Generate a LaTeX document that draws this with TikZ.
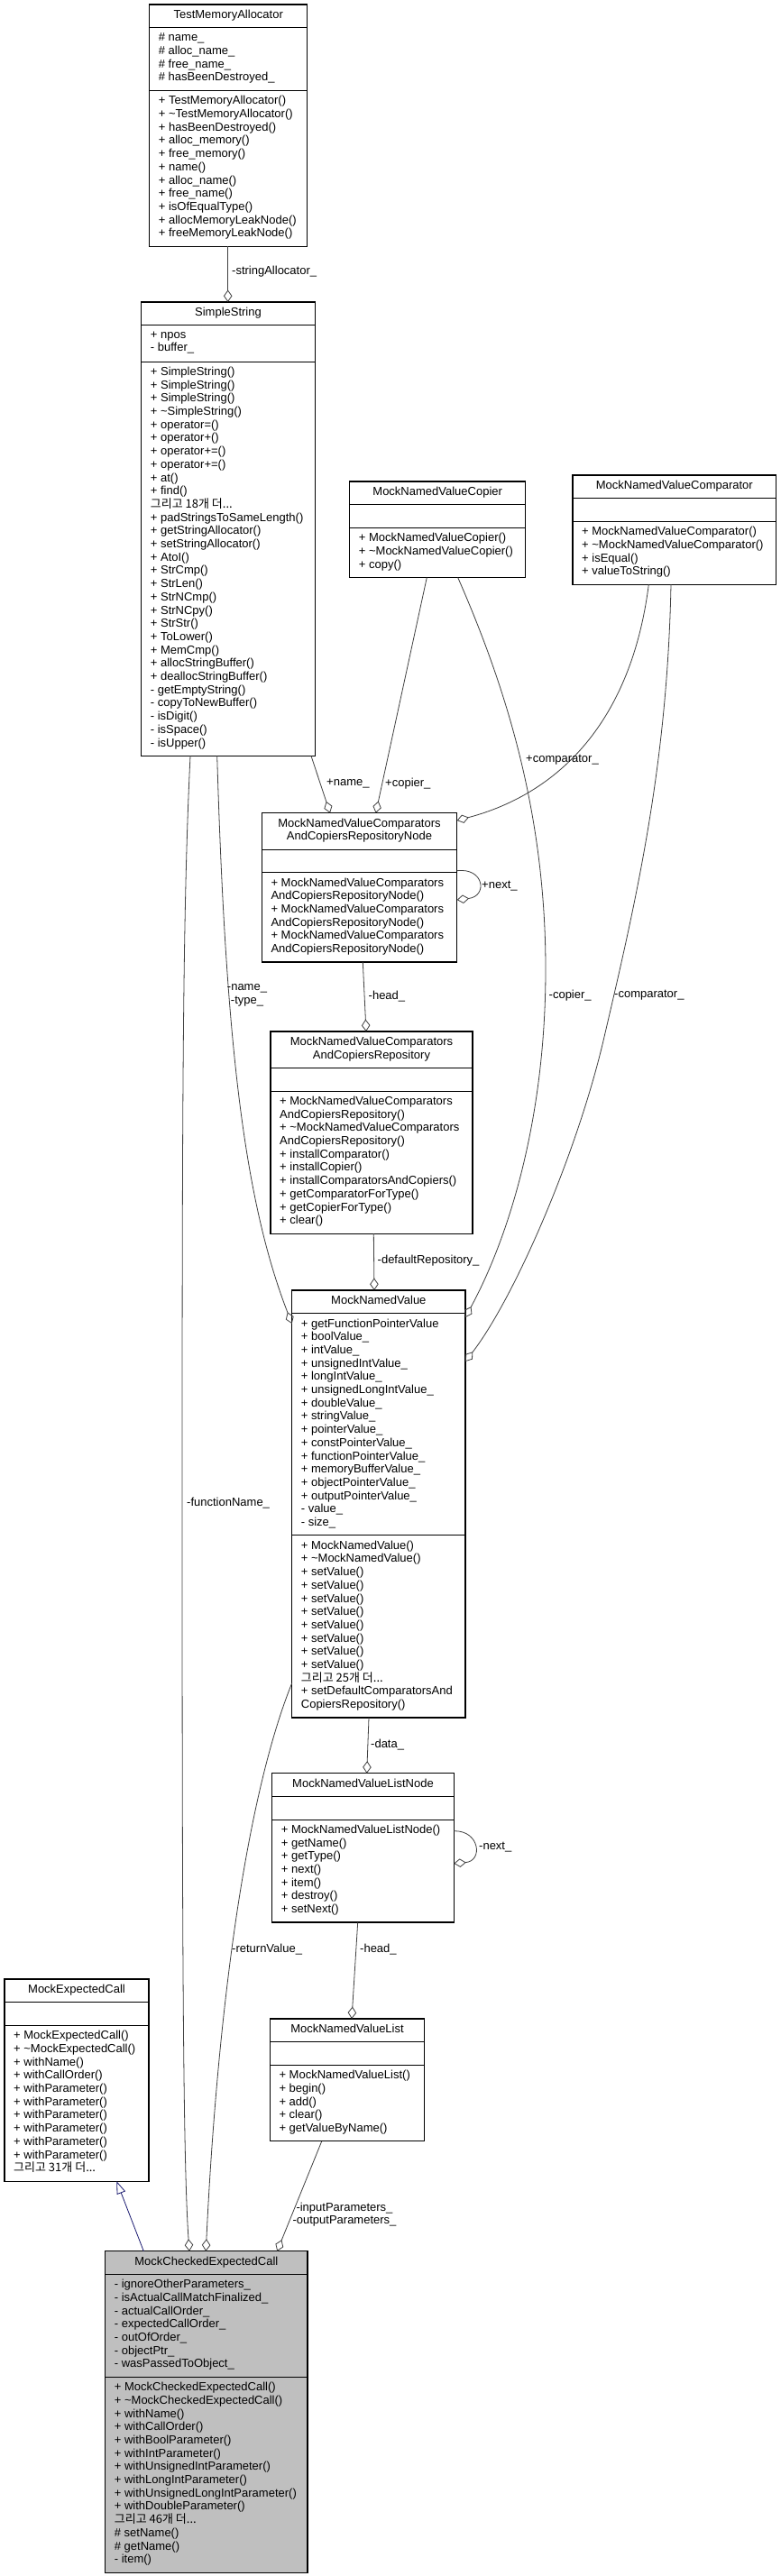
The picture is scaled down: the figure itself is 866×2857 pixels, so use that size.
\documentclass[tikz,border=0pt]{standalone}
\usepackage{fontspec}
\setmainfont{Liberation Sans}
\newfontfamily\kr{Noto Sans CJK KR}
\usetikzlibrary{arrows.meta}
\definecolor{edgegray}{HTML}{404040}
\definecolor{inhblue}{HTML}{191970}
\definecolor{mcecfill}{HTML}{BFBFBF}
% name, x1, x2, y0, y1, y2, y3, fill, title
\newcommand\umlbox[9]{%
  \node[box, fill=#8, minimum width={(#3)-(#2)}, minimum height={(#7)-(#4)}, anchor=north west] (#1) at (#2,#4) {};
  \draw[divider] (#2,#5) -- (#3,#5) (#2,#6) -- (#3,#6);
  \node[txt, align=center] (#1-t) at ({((#2)+(#3))/2},{((#4)+(#5))/2}) {#9};
}
% name, x1, ya, yb, text
\newcommand\ctext[5]{\node[txt, align=left, anchor=west] (#1) at ({(#2)+10},{((#3)+(#4))/2}) {#5};}
\newcommand\tl{\textasciitilde}
\begin{document}
\begin{tikzpicture}[x=1pt,y=-1pt,
  box/.style={draw=black, line width=1.1pt, inner sep=0pt, outer sep=0pt, rectangle},
  divider/.style={draw=black, line width=1.1pt},
  txt/.style={inner sep=0pt, font=\fontsize{13}{14.7}\selectfont, execute at begin node=\strut, execute at end node=\strut},
  lbl/.style={inner sep=0pt, font=\fontsize{13}{14.7}\selectfont},
  agg/.style={draw=edgegray, line width=0.8pt, -{Diamond[open, length=13.5pt, width=9.5pt]}},
  inh/.style={draw=inhblue, line width=0.8pt, -{Triangle[open, length=14pt, width=10pt]}},
]
\useasboundingbox[fill=white] (0,0) rectangle (866,2857);

% TestMemoryAllocator
\umlbox{tma}{165.7}{340.7}{5}{30.7}{100.5}{273.2}{white}{TestMemoryAllocator}
\ctext{tma-a}{165.7}{30.7}{100.5}{\# name\_\\\# alloc\_name\_\\\# free\_name\_\\\# hasBeenDestroyed\_}
\ctext{tma-m}{165.7}{100.5}{273.2}{+ TestMemoryAllocator()\\+ \tl TestMemoryAllocator()\\+ hasBeenDestroyed()\\+ alloc\_memory()\\+ free\_memory()\\+ name()\\+ alloc\_name()\\+ free\_name()\\+ isOfEqualType()\\+ allocMemoryLeakNode()\\+ freeMemoryLeakNode()}

% SimpleString
\umlbox{ss}{156.7}{349.3}{335}{360.7}{401.1}{838.4}{white}{SimpleString}
\ctext{ss-a}{156.7}{360.7}{401.1}{+ npos\\- buffer\_}
\ctext{ss-m}{156.7}{401.1}{838.4}{+ SimpleString()\\+ SimpleString()\\+ SimpleString()\\+ \tl SimpleString()\\+ operator=()\\+ operator+()\\+ operator+=()\\+ operator+=()\\+ at()\\+ find()\\{\kr 그리고 18개 더...}\\+ padStringsToSameLength()\\+ getStringAllocator()\\+ setStringAllocator()\\+ AtoI()\\+ StrCmp()\\+ StrLen()\\+ StrNCmp()\\+ StrNCpy()\\+ StrStr()\\+ ToLower()\\+ MemCmp()\\+ allocStringBuffer()\\+ deallocStringBuffer()\\- getEmptyString()\\- copyToNewBuffer()\\- isDigit()\\- isSpace()\\- isUpper()}

% MockNamedValueCopier
\umlbox{cop}{387.7}{582.7}{534}{559.7}{585.4}{640.5}{white}{MockNamedValueCopier}
\ctext{cop-m}{387.7}{585.4}{640.5}{+ MockNamedValueCopier()\\+ \tl MockNamedValueCopier()\\+ copy()}

% MockNamedValueComparator
\umlbox{cmp}{635}{860.7}{527}{552.7}{578.4}{648.2}{white}{MockNamedValueComparator}
\ctext{cmp-m}{635}{578.4}{648.2}{+ MockNamedValueComparator()\\+ \tl MockNamedValueComparator()\\+ isEqual()\\+ valueToString()}

% RepositoryNode
\umlbox{rn}{290.3}{506.7}{901.7}{942.1}{967.8}{1067}{white}{MockNamedValueComparators\\AndCopiersRepositoryNode}
\ctext{rn-m}{290.3}{967.8}{1067}{+ MockNamedValueComparators\\AndCopiersRepositoryNode()\\+ MockNamedValueComparators\\AndCopiersRepositoryNode()\\+ MockNamedValueComparators\\AndCopiersRepositoryNode()}

% Repository
\umlbox{rep}{300}{524}{1144}{1184.4}{1210.1}{1368.1}{white}{MockNamedValueComparators\\AndCopiersRepository}
\ctext{rep-m}{300}{1210.1}{1368.1}{+ MockNamedValueComparators\\AndCopiersRepository()\\+ \tl MockNamedValueComparators\\AndCopiersRepository()\\+ installComparator()\\+ installCopier()\\+ installComparatorsAndCopiers()\\+ getComparatorForType()\\+ getCopierForType()\\+ clear()}

% MockNamedValue
\umlbox{mnv}{323.7}{516}{1431}{1456.7}{1702.9}{1905}{white}{MockNamedValue}
\ctext{mnv-a}{323.7}{1456.7}{1702.9}{+ getFunctionPointerValue\\+ boolValue\_\\+ intValue\_\\+ unsignedIntValue\_\\+ longIntValue\_\\+ unsignedLongIntValue\_\\+ doubleValue\_\\+ stringValue\_\\+ pointerValue\_\\+ constPointerValue\_\\+ functionPointerValue\_\\+ memoryBufferValue\_\\+ objectPointerValue\_\\+ outputPointerValue\_\\- value\_\\- size\_}
\ctext{mnv-m}{323.7}{1702.9}{1905}{+ MockNamedValue()\\+ \tl MockNamedValue()\\+ setValue()\\+ setValue()\\+ setValue()\\+ setValue()\\+ setValue()\\+ setValue()\\+ setValue()\\+ setValue()\\{\kr 그리고 25개 더...}\\+ setDefaultComparatorsAnd\\CopiersRepository()}

% MockNamedValueListNode
\umlbox{ln}{301.7}{503.3}{1966.7}{1992.4}{2018.1}{2132}{white}{MockNamedValueListNode}
\ctext{ln-m}{301.7}{2018.1}{2132}{+ MockNamedValueListNode()\\+ getName()\\+ getType()\\+ next()\\+ item()\\+ destroy()\\+ setNext()}

% MockNamedValueList
\umlbox{lst}{299.3}{470.7}{2239}{2264.7}{2290.4}{2374.9}{white}{MockNamedValueList}
\ctext{lst-m}{299.3}{2290.4}{2374.9}{+ MockNamedValueList()\\+ begin()\\+ add()\\+ clear()\\+ getValueByName()}

% MockExpectedCall
\umlbox{mec}{5}{165}{2195}{2220.7}{2246.4}{2419.1}{white}{MockExpectedCall}
\ctext{mec-m}{5}{2246.4}{2419.1}{+ MockExpectedCall()\\+ \tl MockExpectedCall()\\+ withName()\\+ withCallOrder()\\+ withParameter()\\+ withParameter()\\+ withParameter()\\+ withParameter()\\+ withParameter()\\+ withParameter()\\{\kr 그리고 31개 더...}}

% MockCheckedExpectedCall
\umlbox{mcec}{116.7}{341}{2496.7}{2522.4}{2636.3}{2853.1}{mcecfill}{MockCheckedExpectedCall}
\ctext{mcec-a}{116.7}{2522.4}{2636.3}{- ignoreOtherParameters\_\\- isActualCallMatchFinalized\_\\- actualCallOrder\_\\- expectedCallOrder\_\\- outOfOrder\_\\- objectPtr\_\\- wasPassedToObject\_}
\ctext{mcec-m}{116.7}{2636.3}{2853.1}{+ MockCheckedExpectedCall()\\+ \tl MockCheckedExpectedCall()\\+ withName()\\+ withCallOrder()\\+ withBoolParameter()\\+ withIntParameter()\\+ withUnsignedIntParameter()\\+ withLongIntParameter()\\+ withUnsignedLongIntParameter()\\+ withDoubleParameter()\\{\kr 그리고 46개 더...}\\\# setName()\\\# getName()\\- item()}

% ---- connectors ----
\draw[agg] ([xshift=87pt]tma.south west) -- ([xshift=96pt]ss.north west);
\draw[agg] ([xshift=-4.3pt]ss.south east) -- ([xshift=75.7pt]rn.north west);
\draw[agg] ([xshift=85.6pt]cop.south west) -- ([xshift=126.4pt]rn.north west);
\draw[agg] ([xshift=84.3pt]cmp.south west) .. controls (700,800) and (620,880) .. ([yshift=-8.3pt]rn.north east);
\draw[agg] ([yshift=-64pt]rn.north east) .. controls (537,962) and (541,994) .. ([yshift=-96.3pt]rn.north east);
\draw[agg] ([xshift=112pt]rn.south west) -- ([xshift=106pt]rep.north west);
\draw[agg] ([xshift=114.3pt]rep.south west) -- ([xshift=91.3pt]mnv.north west);
\draw[agg] ([xshift=120pt]cop.south west) .. controls (560,760) and (605,900) .. (605,1075) .. controls (605,1250) and (560,1380) .. ([yshift=-30pt]mnv.north east);
\draw[agg] ([xshift=109pt]cmp.south west) .. controls (740,850) and (705,1000) .. (670,1150) .. controls (640,1280) and (570,1440) .. ([yshift=-79pt]mnv.north east);
\draw[agg] ([xshift=84pt]ss.south west) .. controls (250,1150) and (270,1330) .. ([yshift=-37pt]mnv.north west);
\draw[agg] ([xshift=54.3pt]ss.south west) .. controls (203,1000) and (202,1200) .. (202,1660) .. controls (202,2150) and (203,2400) .. ([xshift=93.3pt]mcec.north west);
\draw[agg] ([yshift=-435.7pt]mnv.north west) .. controls (270,2000) and (240,2250) .. ([xshift=111.6pt]mcec.north west);
\draw[agg] ([xshift=85.3pt]mnv.south west) -- ([xshift=105pt]ln.north west);
\draw[agg] ([yshift=-64pt]ln.north east) .. controls (532,2030) and (536,2064) .. ([yshift=-100pt]ln.north east);
\draw[agg] ([xshift=95pt]ln.south west) -- ([xshift=90.7pt]lst.north west);
\draw[agg] ([xshift=57.4pt]lst.south west) -- ([xshift=190.6pt]mcec.north west);
\draw[inh] ([xshift=42.6pt]mcec.north west) -- ([xshift=124.3pt]mec.south west);

% ---- labels ----
\node[lbl, anchor=west] (l-sa) at (257,301.5) {-stringAllocator\_};
\node[lbl, anchor=west] (l-nm) at (362,869) {+name\_};
\node[lbl, anchor=west] (l-cp) at (427,869) {+copier\_};
\node[lbl, anchor=west] (l-cmp) at (583,843) {+comparator\_};
\node[lbl, anchor=west] (l-nx1) at (534,983) {+next\_};
\node[lbl, anchor=west] (l-hd1) at (408.5,1105) {-head\_};
\node[lbl, anchor=west] (l-dr) at (418.5,1398.3) {-defaultRepository\_};
\node[lbl, anchor=west] (l-cpr) at (608.5,1104) {-copier\_};
\node[lbl, anchor=west] (l-cmpr) at (681,1104) {-comparator\_};
\node[lbl, align=center] (l-nt) at (274,1104) {-name\_\\-type\_};
\node[lbl, anchor=west] (l-fn) at (207,1666.7) {-functionName\_};
\node[lbl, anchor=west] (l-rv) at (257,2162.3) {-returnValue\_};
\node[lbl, anchor=west] (l-data) at (411,1935) {-data\_};
\node[lbl, anchor=west] (l-nx2) at (531,2049) {-next\_};
\node[lbl, anchor=west] (l-hd2) at (399,2162.3) {-head\_};
\node[lbl, align=center] (l-io) at (382,2456) {-inputParameters\_\\-outputParameters\_};
\end{tikzpicture}
\end{document}
